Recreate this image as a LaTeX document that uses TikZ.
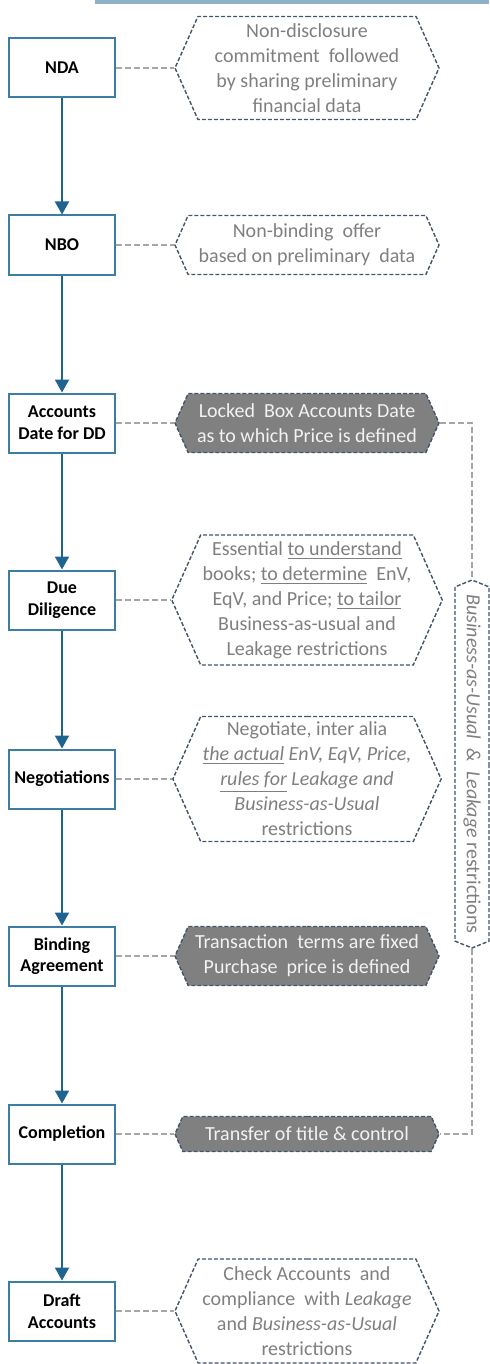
\documentclass[tikz,border=0pt]{standalone}
\usepackage{fontspec}
\setmainfont{Carlito}
\usetikzlibrary{arrows.meta,positioning,shapes.symbols}
\definecolor{stepline}{HTML}{3B7EA1}
\definecolor{flowline}{HTML}{1F6391}
\definecolor{noteline}{HTML}{44546A}
\definecolor{notetext}{HTML}{7F7F7F}
\definecolor{notefill}{HTML}{808080}
\definecolor{linkline}{HTML}{A6A6A6}
\definecolor{topbar}{HTML}{8EB1C7}
\tikzset{
  stepbox/.style={draw=stepline,line width=1pt,fill=white,minimum width=53pt,minimum height=29.5pt,
    align=center,inner sep=1pt,font=\fontsize{9}{10.8}\selectfont\bfseries},
  note/.style={shape=signal,signal to=east and west,signal pointer angle=132,draw=noteline,
    line width=0.7pt,dash pattern=on 2pt off 1pt,minimum width=132pt,align=center,inner sep=1pt,
    text=notetext,font=\fontsize{10}{12.5}\selectfont},
  keynote/.style={note,fill=notefill,text=white!95!black},
  flow/.style={flowline,line width=1pt,-{Triangle[width=7pt,length=6.5pt]}},
  link/.style={linkline,line width=0.6pt,dash pattern=on 3pt off 1.5pt},
}

\begin{document}
\begin{tikzpicture}[x=0.5pt,y=-0.5pt]
  \useasboundingbox (0,0) rectangle (489,1364);
  \fill[topbar] (95,0) rectangle (489,4);

  % Steps of the deal
  \foreach \n/\y/\t in {nda/68/NDA, nbo/245/NBO, acc/423/{Accounts\\Date for DD},
      dd/600/{Due\\Diligence}, neg/779/Negotiations, bind/956/{Binding\\Agreement},
      cmp/1134/Completion, draft/1311/{Draft\\Accounts}} {
    \node[stepbox] (\n) at (62,\y) {\t};
  }
  \foreach \a/\b in {nda/nbo, nbo/acc, acc/dd, dd/neg, neg/bind, bind/cmp, cmp/draft} {
    \draw[flow] (\a) -- (\b);
  }

  % Notes
  \node[note,minimum height=51.5pt] (ndanote) at (307,68)
    {Non-disclosure\\commitment\ \ followed\\by sharing preliminary\\financial data};
  \node[note,minimum height=29.5pt] (nbonote) at (307,245)
    {Non-binding\ \ offer\\based on preliminary\ \ data};
  \node[keynote,minimum height=29.5pt] (accnote) at (307,423)
    {Locked\ \ Box Accounts Date\\as to which Price is defined};
  \node[note,minimum height=65pt] (ddnote) at (307,600)
    {Essential \underline{to understand}\\books; \underline{to determine}\ \ EnV,\\EqV, and Price; \underline{to tailor}\\Business-as-usual and\\Leakage restrictions};
  \node[note,minimum height=62.5pt] (negnote) at (307,779)
    {Negotiate, inter alia\\\textit{\underline{the actual} EnV, EqV, Price,}\\\textit{\underline{rules for} Leakage and}\\\textit{Business-as-Usual}\\restrictions};
  \node[keynote,minimum height=29.5pt] (bindnote) at (307,956)
    {Transaction\ \ terms are fixed\\Purchase\ \ price is defined};
  \node[keynote,minimum height=17.5pt] (cmpnote) at (307,1134)
    {Transfer of title \& control};
  \node[note,minimum height=52pt] (draftnote) at (307,1311)
    {Check Accounts\ \ and\\compliance\ \ with \textit{Leakage}\\and \textit{Business-as-Usual}\\restrictions};
  \foreach \a in {nda, nbo, acc, dd, neg, bind, cmp, draft} {
    \draw[link] (\a.east) -- (\a note.west);
  }

  % Restrictions running from accounts date to completion
  \node[note,rotate=-90,minimum width=184pt,minimum height=17pt,signal pointer angle=136] (bau) at (472,764)
    {\textit{Business-as-Usual\ \ \&\ \ Leakage} restrictions};
  \draw[link] (accnote.east) -| (bau.west);
  \draw[link] (bau.east) |- (cmpnote.east);
\end{tikzpicture}
\end{document}
